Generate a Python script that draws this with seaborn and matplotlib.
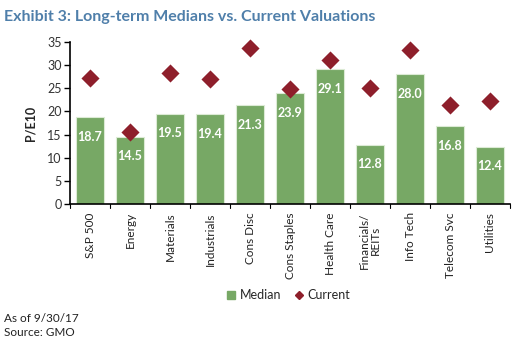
import matplotlib
matplotlib.use("Agg")
import matplotlib.pyplot as plt
import seaborn as sns
import pandas as pd
from matplotlib.lines import Line2D

categories = ["S&P 500", "Energy", "Materials", "Industrials", "Cons Disc",
              "Cons Staples", "Health Care", "Financials/\nREITs", "Info Tech",
              "Telecom Svc", "Utilities"]
median = [18.7, 14.5, 19.5, 19.4, 21.3, 23.9, 29.1, 12.8, 28.0, 16.8, 12.4]
current = [27.3, 15.6, 28.4, 27.0, 33.7, 24.8, 31.2, 25.1, 33.2, 21.4, 22.3]
yticks = [0, 5, 10, 15, 20, 25, 30, 35]

GREEN = "#77A865"
RED = "#8E1F2B"
TITLE = "#4F7FAA"

sns.set_theme(style="white")
plt.rcParams["font.family"] = ["Lato", "DejaVu Sans"]

df = pd.DataFrame({"cat": categories, "median": median, "current": current})

fig = plt.figure(figsize=(5.12, 3.4), dpi=100)
ax = fig.add_axes([70/512, 1 - 204/340, 440/512, 162/340])

sns.barplot(data=df, x="cat", y="median", color=GREEN, saturation=1,
            width=0.7, edgecolor="#DCEBD5", linewidth=0.8, ax=ax, zorder=2)
sc = sns.scatterplot(data=df, x="cat", y="current", marker="D", s=85,
                     color=RED, edgecolor=RED, linewidth=0, ax=ax, zorder=3)
for coll in ax.collections:
    coll.set_clip_on(False)

for i, v in enumerate(median):
    ax.annotate(f"{v:.1f}", xy=(i, v), xytext=(0, -14), textcoords="offset points",
                ha="center", va="center", color="white", fontsize=9, fontweight="bold")

ax.set_ylim(0, 35)
ax.set_xlim(-0.5, len(categories) - 0.5)
ax.set_yticks(yticks)
ax.set_yticklabels([str(t) for t in yticks], fontsize=9, color="#333333")
ax.set_xticks(range(len(categories)))
ax.set_xticklabels(categories, rotation=90, fontsize=8.5, color="#222222",
                   linespacing=1.0)
ax.tick_params(axis="x", length=0, pad=6)
ax.tick_params(axis="y", length=4, width=1, color="black", left=True, pad=2)
for k in range(len(categories) + 1):
    ax.plot([k - 0.5, k - 0.5], [0, -0.9], color="black", lw=0.8,
            clip_on=False, zorder=4)
ax.set_xlabel("")
ax.set_ylabel("P/E10", fontsize=9, fontweight="bold", labelpad=8)
for s in ["top", "right"]:
    ax.spines[s].set_visible(False)
for s in ["left", "bottom"]:
    ax.spines[s].set_color("black")
    ax.spines[s].set_linewidth(1.2)

fig.text(4/512, 1 - 17/340, "Exhibit 3: Long-term Medians vs. Current Valuations",
         fontsize=11.5, fontweight="bold", color=TITLE, va="center")

handles = [Line2D([], [], marker="s", color=GREEN, linestyle="none", markersize=6),
           Line2D([], [], marker="D", color=RED, linestyle="none", markersize=4.5)]
fig.legend(handles, ["Median", "Current"], loc="center",
           bbox_to_anchor=(288/512, 1 - 295/340), ncol=2, frameon=False,
           fontsize=9, handlelength=0.8, handletextpad=0.3, columnspacing=1.0)

fig.text(4/512, 1 - 318/340, "As of 9/30/17", fontsize=8.5, va="center", color="#222222")
fig.text(4/512, 1 - 332/340, "Source: GMO", fontsize=8.5, va="center", color="#222222")

fig.savefig("out.png", dpi=100)
